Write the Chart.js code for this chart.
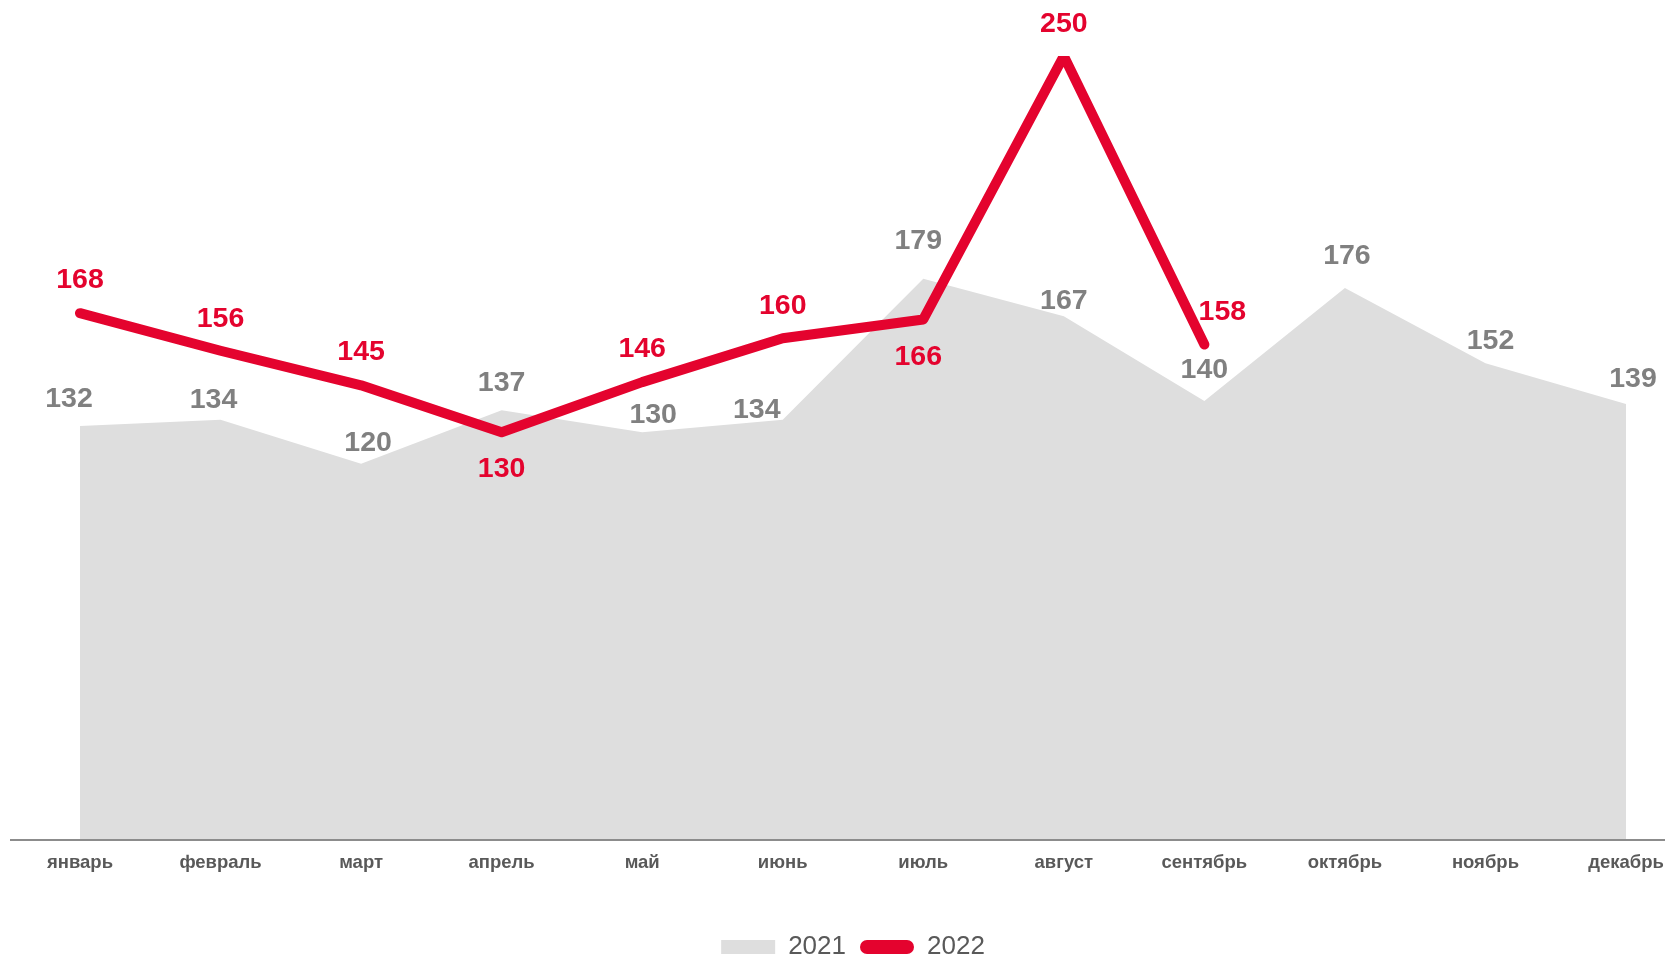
<!DOCTYPE html>
<html lang="ru">
<head>
<meta charset="utf-8">
<title>2021 / 2022</title>
<script src="https://cdn.jsdelivr.net/npm/chart.js@4.4.1/dist/chart.umd.min.js"></script>
<style>
  html, body { margin: 0; padding: 0; background: #fff; }
  #wrap { width: 1665px; height: 959px; }
</style>
</head>
<body>
<div id="wrap"><canvas id="chart"></canvas></div>
<script>
const months = ['январь', 'февраль', 'март', 'апрель', 'май', 'июнь', 'июль', 'август', 'сентябрь', 'октябрь', 'ноябрь', 'декабрь'];
const values2021 = [132, 134, 120, 137, 130, 134, 179, 167, 140, 176, 152, 139];
const values2022 = [168, 156, 145, 130, 146, 160, 166, 250, 158, null, null, null];
const seriesNames = ['2021', '2022'];
const yMin = 0;
const yMax = 250;

const RED = '#e4032e';
const GREY_AREA = '#dedede';
const GREY_TEXT = '#808080';
const AXIS_TEXT = '#595959';

Chart.defaults.font.family = '"Liberation Sans", Arial, sans-serif';

// labels in the original were nudged by hand, so keep per-point offsets (px)
const labelShift = [
    { dx: [-11, -7, 7, 0, 11, -26, -5, 0, 0, 2, 5, 7], dy: [-27, -20, -21, -27, -17, -10, -38, -15, -31, -32, -22, -25] },
    { dx: [0, 0, 0, 0, 0, 0, -5, 0, 18], dy: [-33, -32, -33, 37, -33, -32, 38, -32, -32] }
];

const baseline = {
    id: 'baseline',
    afterDatasetsDraw(chart) {
        const ctx = chart.ctx;
        const y = chart.scales.y.getPixelForValue(yMin);
        ctx.save();
        ctx.strokeStyle = '#8c8c8c';
        ctx.lineWidth = 2;
        ctx.beginPath();
        ctx.moveTo(10, y);
        ctx.lineTo(chart.width, y);
        ctx.stroke();
        ctx.restore();
    }
};

const valueLabels = {
    id: 'valueLabels',
    afterDatasetsDraw(chart) {
        const ctx = chart.ctx;
        ctx.save();
        ctx.font = 'bold 28.5px "Liberation Sans", Arial, sans-serif';
        ctx.textAlign = 'center';
        ctx.textBaseline = 'middle';
        chart.data.datasets.forEach((ds, di) => {
            const meta = chart.getDatasetMeta(di);
            const shift = labelShift[di];
            ctx.fillStyle = di === 0 ? GREY_TEXT : RED;
            meta.data.forEach((pt, i) => {
                const v = ds.data[i];
                if (v == null) return;
                ctx.fillText(String(v), pt.x + shift.dx[i], pt.y + shift.dy[i]);
            });
        });
        ctx.restore();
    }
};

new Chart(document.getElementById('chart'), {
    type: 'line',
    data: {
        labels: months,
        datasets: [
            {
                label: seriesNames[0],
                data: values2021,
                fill: 'origin',
                backgroundColor: GREY_AREA,
                borderColor: GREY_AREA,
                borderWidth: 0,
                pointRadius: 0,
                order: 2
            },
            {
                label: seriesNames[1],
                data: values2022,
                fill: false,
                borderColor: RED,
                borderWidth: 10,
                borderCapStyle: 'round',
                borderJoinStyle: 'round',
                pointRadius: 0,
                order: 1
            }
        ]
    },
    options: {
        responsive: true,
        maintainAspectRatio: false,
        animation: false,
        events: [],
        layout: {
            padding: { top: 56, left: 80, right: 39, bottom: -11 }
        },
        scales: {
            x: {
                type: 'category',
                offset: false,
                grid: { display: false, drawTicks: false },
                border: { display: false },
                ticks: {
                    color: AXIS_TEXT,
                    font: { size: 18.5, weight: 'bold' },
                    padding: 12,
                    maxRotation: 0,
                    autoSkip: false
                },
                afterFit(scale) {
                    scale.height = 80;
                    scale.paddingLeft = 0;
                    scale.paddingRight = 0;
                }
            },
            y: {
                display: false,
                min: yMin,
                max: yMax
            }
        },
        plugins: {
            tooltip: { enabled: false },
            legend: {
                position: 'bottom',
                align: 'center',
                labels: {
                    boxWidth: 54,
                    boxHeight: 14,
                    padding: 14,
                    useBorderRadius: true,
                    color: AXIS_TEXT,
                    font: { size: 26 },
                    generateLabels(chart) {
                        return chart.data.datasets.map((ds, i) => ({
                            text: ds.label,
                            fillStyle: i === 0 ? GREY_AREA : RED,
                            strokeStyle: i === 0 ? GREY_AREA : RED,
                            lineWidth: 0,
                            borderRadius: i === 0 ? 0 : 7,
                            fontColor: AXIS_TEXT,
                            hidden: false,
                            datasetIndex: i
                        }));
                    }
                }
            }
        }
    },
    plugins: [baseline, valueLabels]
});
</script>
</body>
</html>
